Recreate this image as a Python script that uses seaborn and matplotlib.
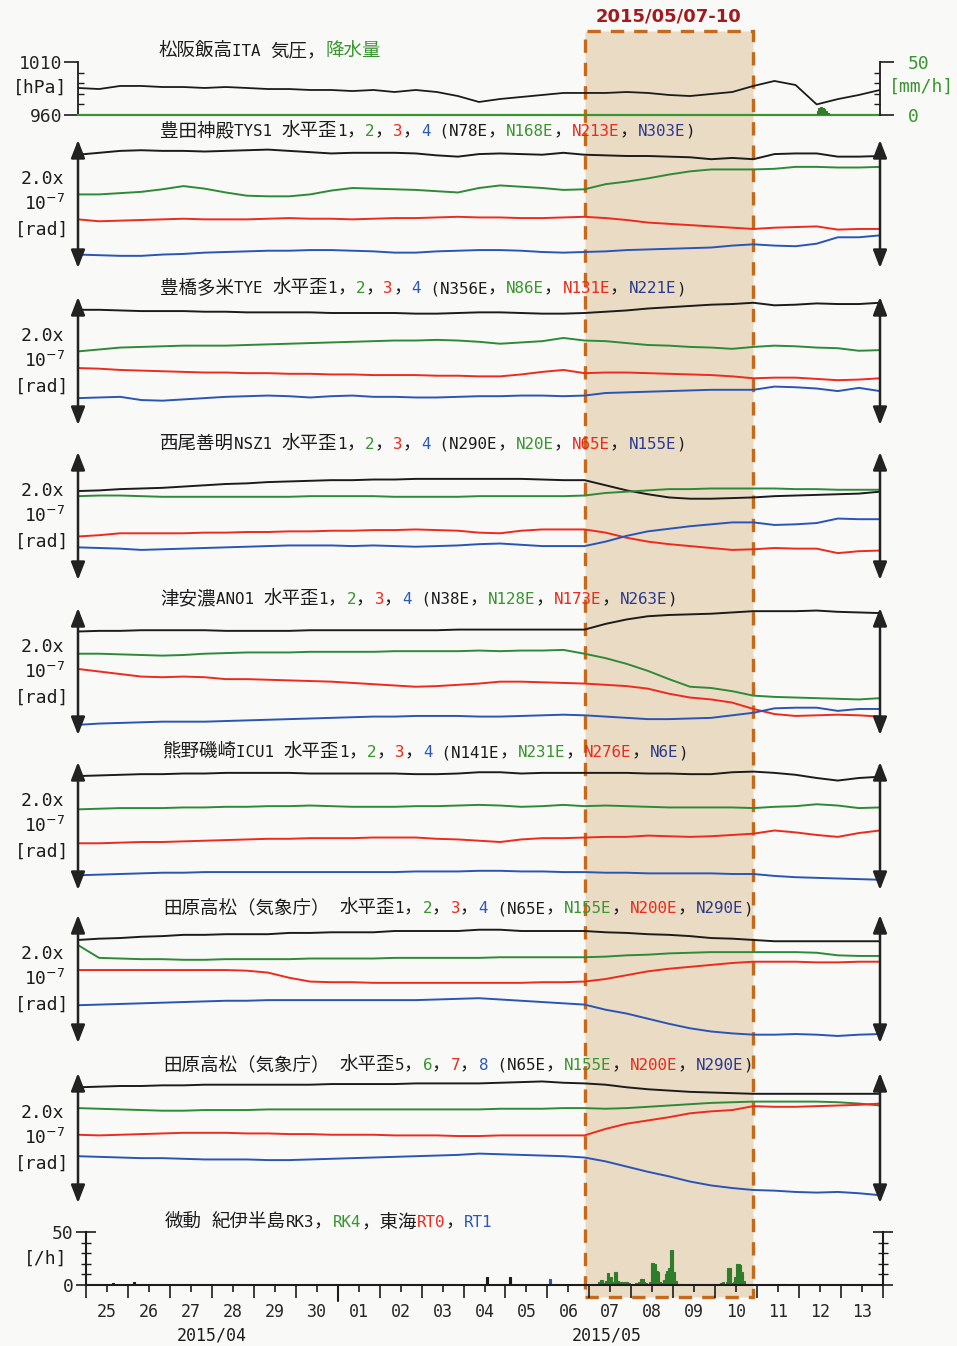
import numpy as np
import pandas as pd
import matplotlib
matplotlib.use("Agg")
import matplotlib.pyplot as plt
import matplotlib.dates as mdates
import seaborn as sns

sns.set_theme(style="ticks")
plt.rcParams['font.family'] = ['DejaVu Sans Mono', 'Noto Sans CJK JP']

# ── data: half-day samples 2015-04-25 00h .. 2015-05-14 00h ────────────
times = pd.date_range("2015-04-25", "2015-05-14", freq="12h")

pressure = [985.5, 984.5, 987.4, 987.4, 986.4, 986.4, 985.5, 986.4, 985.5, 984.5,
            984.5, 983.6, 983.6, 982.6, 983.6, 981.7, 983.6, 981.7, 977.9, 972.3,
            975.1, 977.0, 978.9, 980.8, 980.8, 980.8, 981.7, 980.8, 978.9, 977.9,
            979.8, 981.7, 987.4, 992.1, 988.3, 970.0, 975.0, 978.9, 983.6]
rain_time = pd.date_range("2015-05-12 12:00", periods=7, freq="h")
rain = [4, 7, 8, 7, 6, 4, 2]

# strain, units of 1e-8 rad (arrow = 2.0e-7 rad = 20 units)
TYS1_1 = [17.7, 18.0, 18.3, 18.4, 18.3, 18.3, 18.2, 18.3, 18.4, 18.5, 18.3, 18.1, 17.9, 18.0, 18.0, 18.0, 17.9, 17.6, 17.4, 17.8,
          17.9, 17.8, 17.7, 18.0, 17.7, 17.6, 17.5, 17.5, 17.4, 17.3, 17.0, 17.2, 17.0, 17.8, 17.9, 17.9, 17.4, 17.4, 17.5]
TYS1_2 = [11.5, 11.5, 11.7, 11.9, 12.3, 12.8, 12.4, 11.8, 11.3, 11.2, 11.2, 11.5, 12.1, 12.5, 12.4, 12.3, 12.2, 12.0, 11.8, 12.5,
          12.9, 12.7, 12.5, 12.2, 12.3, 13.1, 13.5, 14.0, 14.6, 15.1, 15.4, 15.4, 15.4, 15.5, 15.8, 15.8, 15.7, 15.7, 15.8]
TYS1_3 = [7.6, 7.3, 7.4, 7.5, 7.6, 7.7, 7.6, 7.6, 7.6, 7.7, 7.8, 7.7, 7.7, 7.6, 7.7, 7.8, 7.8, 7.9, 8.0, 7.9,
          7.9, 7.8, 7.8, 7.9, 8.0, 7.8, 7.5, 7.1, 6.9, 6.7, 6.5, 6.3, 6.1, 6.3, 6.4, 6.5, 6.0, 6.1, 6.1]
TYS1_4 = [2.1, 2.0, 1.9, 1.9, 2.1, 2.2, 2.4, 2.5, 2.6, 2.7, 2.7, 2.8, 2.8, 2.7, 2.6, 2.4, 2.4, 2.6, 2.7, 2.8,
          2.8, 2.7, 2.5, 2.4, 2.5, 2.6, 2.8, 2.9, 3.0, 3.1, 3.2, 3.5, 3.7, 3.5, 3.4, 3.8, 4.8, 4.8, 5.1]

TYE_1 = [18.0, 18.0, 17.9, 17.8, 17.8, 17.8, 17.7, 17.7, 17.6, 17.6, 17.6, 17.6, 17.5, 17.5, 17.5, 17.5, 17.4, 17.4, 17.5, 17.6,
         17.6, 17.5, 17.4, 17.4, 17.5, 17.7, 17.9, 18.2, 18.4, 18.6, 18.8, 18.9, 19.1, 18.7, 18.8, 19.0, 18.9, 18.9, 19.1]
TYE_2 = [11.5, 11.8, 12.1, 12.2, 12.3, 12.4, 12.4, 12.4, 12.5, 12.6, 12.7, 12.8, 12.9, 13.0, 13.1, 13.2, 13.2, 13.3, 13.2, 13.0,
         12.7, 12.9, 13.1, 13.6, 13.2, 13.1, 12.8, 12.5, 12.4, 12.2, 12.1, 11.9, 12.2, 12.4, 12.3, 12.1, 12.0, 11.6, 11.7]
TYE_3 = [8.9, 8.8, 8.6, 8.5, 8.4, 8.3, 8.2, 8.2, 8.1, 8.1, 8.0, 8.0, 7.9, 7.9, 7.8, 7.8, 7.8, 7.7, 7.7, 7.6,
         7.6, 7.9, 8.3, 8.6, 8.1, 8.2, 8.2, 8.1, 8.0, 7.9, 7.8, 7.6, 7.3, 7.4, 7.4, 7.2, 7.0, 7.1, 7.3]
TYE_4 = [4.2, 4.3, 4.4, 3.9, 3.8, 4.0, 4.2, 4.4, 4.5, 4.6, 4.5, 4.3, 4.5, 4.6, 4.4, 4.4, 4.3, 4.3, 4.4, 4.5,
         4.5, 4.6, 4.6, 4.5, 4.6, 5.0, 5.1, 5.2, 5.3, 5.4, 5.5, 5.5, 5.5, 6.0, 5.9, 5.7, 5.3, 5.8, 5.3]

NSZ1_1 = [13.9, 14.0, 14.2, 14.3, 14.4, 14.6, 14.8, 15.0, 15.1, 15.3, 15.4, 15.5, 15.6, 15.6, 15.7, 15.7, 15.8, 15.8, 15.8, 15.8,
          15.8, 15.8, 15.7, 15.6, 15.6, 14.8, 14.0, 13.4, 12.9, 12.7, 12.7, 12.8, 12.9, 13.1, 13.2, 13.3, 13.4, 13.5, 13.8]
NSZ1_2 = [13.1, 13.2, 13.2, 13.1, 13.0, 13.0, 13.0, 13.0, 13.0, 13.0, 13.0, 13.1, 13.1, 13.1, 13.1, 13.0, 13.0, 13.0, 13.0, 13.1,
          13.1, 13.1, 13.1, 13.1, 13.2, 13.6, 13.8, 14.0, 14.2, 14.2, 14.3, 14.3, 14.3, 14.3, 14.2, 14.2, 14.1, 14.1, 14.1]
NSZ1_3 = [6.8, 7.0, 7.3, 7.3, 7.3, 7.3, 7.4, 7.4, 7.5, 7.5, 7.6, 7.6, 7.7, 7.7, 7.8, 7.8, 7.9, 7.8, 7.7, 7.4,
          7.3, 7.7, 7.9, 7.9, 7.9, 7.4, 6.6, 6.0, 5.6, 5.3, 5.0, 4.7, 4.8, 5.0, 4.9, 4.9, 4.2, 4.5, 4.6]
NSZ1_4 = [5.1, 5.0, 4.9, 4.7, 4.8, 4.9, 5.0, 5.1, 5.2, 5.3, 5.4, 5.4, 5.4, 5.3, 5.4, 5.3, 5.2, 5.3, 5.4, 5.6,
          5.7, 5.5, 5.3, 5.3, 5.3, 6.0, 6.9, 7.6, 8.0, 8.4, 8.7, 9.0, 9.0, 8.6, 8.7, 8.9, 9.6, 9.5, 9.5]

ANO1_1 = [16.3, 16.4, 16.4, 16.5, 16.5, 16.5, 16.5, 16.4, 16.4, 16.4, 16.4, 16.5, 16.5, 16.5, 16.5, 16.5, 16.5, 16.5, 16.6, 16.6,
          16.6, 16.6, 16.6, 16.6, 16.6, 17.5, 18.2, 18.7, 18.9, 19.0, 19.1, 19.3, 19.5, 19.5, 19.5, 19.6, 19.4, 19.3, 19.2]
ANO1_2 = [12.8, 12.8, 12.7, 12.6, 12.5, 12.6, 12.8, 12.9, 13.0, 13.0, 13.0, 13.1, 13.1, 13.1, 13.1, 13.2, 13.2, 13.2, 13.2, 13.3,
          13.2, 13.3, 13.3, 13.4, 12.8, 12.1, 11.2, 10.1, 8.8, 7.6, 7.4, 6.9, 6.2, 6.0, 5.9, 5.8, 5.7, 5.6, 5.8]
ANO1_3 = [10.4, 10.0, 9.6, 9.2, 9.1, 9.2, 9.1, 8.8, 8.8, 8.7, 8.6, 8.5, 8.4, 8.2, 8.0, 7.8, 7.6, 7.7, 7.9, 8.1,
          8.4, 8.4, 8.3, 8.2, 8.1, 7.9, 7.7, 7.3, 6.5, 5.9, 5.6, 5.1, 4.1, 3.3, 3.0, 3.1, 3.2, 3.1, 2.9]
ANO1_4 = [1.6, 1.8, 1.9, 2.0, 2.1, 2.1, 2.1, 2.2, 2.3, 2.4, 2.5, 2.6, 2.7, 2.8, 2.9, 2.9, 3.0, 3.0, 3.0, 2.9,
          2.9, 3.0, 3.1, 3.2, 3.1, 2.9, 2.7, 2.5, 2.5, 2.6, 2.7, 3.1, 3.5, 4.2, 4.3, 4.3, 3.8, 4.1, 4.1]

ICU1_1 = [17.8, 17.9, 18.0, 18.1, 18.1, 18.2, 18.2, 18.3, 18.3, 18.3, 18.3, 18.2, 18.2, 18.2, 18.2, 18.2, 18.1, 18.1, 18.2, 18.4,
          18.4, 18.2, 18.3, 18.3, 18.3, 18.3, 18.3, 18.2, 18.2, 18.1, 18.1, 18.4, 18.5, 18.3, 18.0, 17.5, 17.1, 17.5, 17.7]
ICU1_2 = [12.6, 12.7, 12.8, 12.8, 12.8, 12.9, 12.9, 13.0, 13.0, 13.1, 13.1, 13.2, 13.1, 13.0, 13.0, 13.0, 13.1, 13.1, 13.2, 13.3,
          13.2, 13.0, 13.1, 13.3, 13.1, 13.2, 13.1, 13.0, 12.9, 12.9, 12.9, 12.9, 12.8, 13.0, 13.1, 13.4, 13.2, 12.8, 12.9]
ICU1_3 = [7.3, 7.3, 7.4, 7.5, 7.5, 7.6, 7.7, 7.8, 7.9, 8.0, 8.0, 8.1, 8.1, 8.1, 8.2, 8.2, 8.2, 8.0, 7.9, 7.7,
          7.5, 7.9, 8.1, 8.1, 8.2, 8.3, 8.3, 8.5, 8.4, 8.3, 8.4, 8.6, 8.8, 9.3, 9.0, 8.6, 8.3, 8.9, 9.3]
ICU1_4 = [2.3, 2.4, 2.5, 2.6, 2.7, 2.7, 2.8, 2.8, 2.8, 2.8, 2.8, 2.8, 2.8, 2.8, 2.8, 2.8, 2.9, 2.9, 2.9, 3.0,
          3.0, 2.9, 2.9, 2.8, 2.8, 2.7, 2.7, 2.6, 2.6, 2.6, 2.6, 2.5, 2.5, 2.2, 2.0, 1.9, 1.8, 1.7, 1.6]

TAH1_1 = [16.1, 16.3, 16.4, 16.6, 16.7, 16.9, 16.9, 17.0, 17.0, 17.0, 17.2, 17.2, 17.3, 17.3, 17.3, 17.5, 17.5, 17.5, 17.5, 17.7,
          17.7, 17.5, 17.5, 17.5, 17.5, 17.3, 17.2, 17.0, 16.9, 16.7, 16.4, 16.3, 16.1, 15.9, 15.9, 15.9, 15.9, 15.9, 15.9]
TAH1_2 = [15.3, 13.3, 13.2, 13.1, 13.1, 13.0, 13.0, 13.1, 13.1, 13.1, 13.1, 13.2, 13.2, 13.2, 13.2, 13.3, 13.3, 13.3, 13.3, 13.3,
          13.4, 13.4, 13.4, 13.4, 13.4, 13.5, 13.7, 13.8, 14.0, 14.1, 14.2, 14.2, 14.2, 14.2, 14.2, 14.1, 13.7, 13.6, 13.6]
TAH1_3 = [11.4, 11.4, 11.4, 11.4, 11.4, 11.4, 11.4, 11.4, 11.3, 11.0, 10.2, 9.6, 9.5, 9.5, 9.4, 9.4, 9.4, 9.4, 9.4, 9.4,
          9.4, 9.4, 9.5, 9.5, 9.6, 10.0, 10.6, 11.2, 11.6, 11.9, 12.2, 12.5, 12.7, 12.7, 12.7, 12.6, 12.6, 12.7, 12.7]
TAH1_4 = [5.9, 6.0, 6.1, 6.2, 6.3, 6.4, 6.5, 6.6, 6.6, 6.7, 6.7, 6.7, 6.7, 6.7, 6.7, 6.7, 6.7, 6.8, 6.9, 7.0,
          6.8, 6.6, 6.4, 6.2, 6.0, 5.2, 4.6, 3.8, 3.0, 2.3, 1.8, 1.5, 1.3, 1.3, 1.4, 1.3, 1.1, 1.3, 1.4]

TAH5_1 = [17.8, 17.9, 18.0, 18.0, 18.1, 18.1, 18.2, 18.2, 18.2, 18.2, 18.2, 18.2, 18.3, 18.3, 18.3, 18.3, 18.4, 18.4, 18.4, 18.4,
          18.5, 18.6, 18.7, 18.5, 18.4, 18.2, 17.8, 17.5, 17.3, 17.1, 17.0, 16.9, 16.8, 16.8, 16.8, 16.8, 16.8, 16.8, 16.8]
TAH5_2 = [14.6, 14.5, 14.4, 14.3, 14.2, 14.2, 14.3, 14.3, 14.3, 14.4, 14.4, 14.4, 14.4, 14.4, 14.4, 14.4, 14.4, 14.4, 14.4, 14.4,
          14.5, 14.5, 14.5, 14.6, 14.6, 14.5, 14.6, 14.8, 15.0, 15.2, 15.4, 15.5, 15.6, 15.6, 15.6, 15.6, 15.5, 15.3, 15.0]
TAH5_3 = [10.5, 10.4, 10.5, 10.6, 10.7, 10.8, 10.8, 10.8, 10.7, 10.7, 10.6, 10.6, 10.5, 10.5, 10.5, 10.4, 10.4, 10.4, 10.3, 10.3,
          10.4, 10.4, 10.4, 10.4, 10.4, 11.4, 12.2, 12.7, 13.2, 13.8, 14.1, 14.3, 14.9, 14.8, 14.8, 14.9, 15.0, 15.1, 15.3]
TAH5_4 = [7.2, 7.1, 7.0, 6.9, 6.9, 6.8, 6.7, 6.7, 6.7, 6.6, 6.6, 6.7, 6.8, 6.9, 7.0, 7.1, 7.2, 7.3, 7.4, 7.6,
          7.5, 7.4, 7.3, 7.2, 7.0, 6.4, 5.6, 4.8, 4.1, 3.3, 2.7, 2.3, 2.0, 1.9, 1.7, 1.6, 1.7, 1.5, 1.2]

# tremor counts per hour
rk3_time = pd.to_datetime(["2015-04-25 15:00", "2015-04-26 03:00", "2015-05-04 13:00", "2015-05-05 02:00"])
rk3_count = [2, 3, 8, 8]
rk4_hour = [5, 6, 7, 8, 9, 10, 11, 12, 13, 14, 15, 16, 17, 18, 19, 20, 21, 22,
            26, 28, 29, 30, 31, 32, 34,
            35, 36, 37, 38, 39, 40, 41, 42, 43, 44, 45, 46, 47, 48, 49,
            52, 60, 70, 75, 76, 78,
            79, 80, 81, 82, 83, 84, 85, 86, 87, 88]   # hours after 2015-05-07 00h
rk4_count = [3, 5, 5, 2, 4, 11, 6, 8, 3, 12, 12, 4, 3, 3, 2, 3, 3, 2,
             2, 3, 6, 6, 3, 2, 3,
             21, 21, 20, 13, 12, 3, 2, 5, 10, 13, 16, 33, 33, 12, 4,
             1, 1, 1, 2, 3, 3,
             16, 16, 2, 3, 8, 20, 20, 19, 12, 4]
rt0_time = pd.to_datetime(["2015-05-09 15:00", "2015-05-12 06:00"])
rt0_count = [1, 1]
rt1_time = pd.to_datetime(["2015-05-06 01:00", "2015-05-11 15:00", "2015-05-13 14:00"])
rt1_count = [6, 1, 1]

event_start, event_end = pd.Timestamp("2015-05-07"), pd.Timestamp("2015-05-11")
t0, t1 = pd.Timestamp("2015-04-25"), pd.Timestamp("2015-05-14")

# ── styling ───────────────────────────────────────────────────
K, G, R, B, NV = "#1c1c1c", "#3a9430", "#ec2a1c", "#2a57b8", "#2c3a8e"
LINE_COLORS = ["#1c1c1c", "#2f8a38", "#ee2a1e", "#2a55b5"]
W, H = 957, 1346
fig = plt.figure(figsize=(W / 100, H / 100), dpi=100, facecolor="#f9f9f7")
renderer = fig.canvas.get_renderer()

def rect(x0, x1, y0, y1):
    return [x0 / W, 1 - y1 / H, (x1 - x0) / W, (y1 - y0) / H]

def is_wide(ch):
    return ord(ch) > 0x2E80

def colored_text(x_px, y_px, parts, wide=13.3, narrow=11.4):
    # full-width glyphs and half-width glyphs get their own sizes, like a Japanese mono font
    x = x_px
    for s, c in parts:
        runs, cur = [], s[0]
        for ch in s[1:]:
            if is_wide(ch) == is_wide(cur[-1]):
                cur += ch
            else:
                runs.append(cur); cur = ch
        runs.append(cur)
        for run in runs:
            size = wide if is_wide(run[0]) else narrow
            t = fig.text(x / W, 1 - (y_px + 6) / H, run, color=c, fontsize=size, ha="left", va="baseline")
            x += t.get_window_extent(renderer).width

# ── event box ─────────────────────────────────────────────────
bg = fig.add_axes(rect(78, 880, 31, 1297), zorder=0)
bg.set_xlim(t0, t1); bg.set_ylim(0, 1); bg.axis("off")
span = bg.axvspan(event_start, event_end, facecolor="#eadcc4", edgecolor="#c5691a", lw=2.4, ls=(0, (4, 3)))
span.set_clip_on(False)
mid = mdates.date2num(event_start + (event_end - event_start) / 2)
bg.text(mid, 1.004, "2015/05/07-10", transform=bg.get_xaxis_transform(), ha="center", va="bottom",
        color="#a31a1e", fontsize=13, fontweight="bold", family="DejaVu Sans")

# ── pressure / rain ───────────────────────────────────────────
axp = fig.add_axes(rect(78, 880, 62, 115), zorder=2)
axp.patch.set_alpha(0)
sns.lineplot(x=times, y=pressure, color=K, lw=1.3, ax=axp)
axp.set_xlim(t0, t1); axp.set_ylim(960, 1010)
axp.set_xlabel(""); axp.set_ylabel("")
for s in ["top", "right"]:
    axp.spines[s].set_visible(False)
axp.spines["left"].set_color(K); axp.spines["left"].set_linewidth(1.3)
axp.spines["bottom"].set_color(G); axp.spines["bottom"].set_linewidth(1.6)
axp.set_xticks([])
axp.set_yticks([960, 1010]); axp.set_yticklabels(["960", "1010"], fontsize=13)
axp.set_yticks([970, 980, 990, 1000], minor=True)
axp.tick_params(axis="y", which="major", direction="out", length=10, width=1.2, pad=1, color=K)
axp.tick_params(axis="y", which="minor", direction="in", length=4, width=1, left=True, color=K)

axr = axp.twinx()
axr.patch.set_alpha(0)
axr.bar(mdates.date2num(rain_time), rain, width=1 / 24, color="#2f7d2a", edgecolor="#2f7d2a", lw=0.8, align="edge")
axr.set_ylim(0, 50)
for s in ["top", "left", "bottom"]:
    axr.spines[s].set_visible(False)
axr.spines["right"].set_color(K); axr.spines["right"].set_linewidth(1.3)
axr.set_yticks([0, 50]); axr.set_yticklabels(["0", "50"], fontsize=13, color=G)
axr.set_yticks([10, 20, 30, 40], minor=True)
axr.tick_params(axis="y", which="major", direction="out", length=10, width=1.2, pad=10, color=K)
axr.tick_params(axis="y", which="minor", direction="in", length=4, width=1, right=True, color=K)
fig.text(67 / W, 1 - 88 / H, "[hPa]", ha="right", va="center", fontsize=13, color=K)
fig.text(889 / W, 1 - 87 / H, "[mm/h]", ha="left", va="center", fontsize=13, color=G)
colored_text(158, 50, [("松阪飯高ITA 気圧，", K), ("降水量", G)])

# ── strain panels ─────────────────────────────────────────────
panels = [
    ([TYS1_1, TYS1_2, TYS1_3, TYS1_4], 140, 268, "豊田神殿TYS1 水平歪", "1234", ["N78E", "N168E", "N213E", "N303E"], 160, 130),
    ([TYE_1, TYE_2, TYE_3, TYE_4], 297, 425, "豊橋多米TYE 水平歪", "1234", ["N356E", "N86E", "N131E", "N221E"], 160, 287),
    ([NSZ1_1, NSZ1_2, NSZ1_3, NSZ1_4], 452, 580, "西尾善明NSZ1 水平歪", "1234", ["N290E", "N20E", "N65E", "N155E"], 160, 443),
    ([ANO1_1, ANO1_2, ANO1_3, ANO1_4], 608, 735, "津安濃ANO1 水平歪", "1234", ["N38E", "N128E", "N173E", "N263E"], 160, 598),
    ([ICU1_1, ICU1_2, ICU1_3, ICU1_4], 762, 890, "熊野磯崎ICU1 水平歪", "1234", ["N141E", "N231E", "N276E", "N6E"], 162, 751),
    ([TAH1_1, TAH1_2, TAH1_3, TAH1_4], 915, 1043, "田原高松（気象庁） 水平歪", "1234", ["N65E", "N155E", "N200E", "N290E"], 163, 907),
    ([TAH5_1, TAH5_2, TAH5_3, TAH5_4], 1073, 1203, "田原高松（気象庁） 水平歪", "5678", ["N65E", "N155E", "N200E", "N290E"], 163, 1064),
]
arrow = dict(arrowstyle="<|-|>,head_length=0.9,head_width=0.35", lw=1.8, color="#222222",
             shrinkA=0, shrinkB=0, mutation_scale=12)
for series, top, bot, name, nums, dirs, tx, ty in panels:
    ax = fig.add_axes(rect(78, 880, top, bot), zorder=2)
    ax.patch.set_alpha(0)
    df = pd.DataFrame({"time": np.tile(times.values, 4),
                       "value": np.concatenate(series),
                       "ch": np.repeat(list(nums), len(times))})
    sns.lineplot(data=df, x="time", y="value", hue="ch", palette=LINE_COLORS, legend=False, lw=1.4, ax=ax)
    ax.set_xlim(t0, t1); ax.set_ylim(0, 20)
    ax.axis("off")
    for xa in (0, 1):
        ax.annotate("", xy=(xa, 1), xytext=(xa, 0), xycoords="axes fraction", arrowprops=arrow)
    c = (top + bot) / 2
    fig.text(42 / W, 1 - (c - 25) / H, "2.0x", ha="center", va="center", fontsize=13, color=K)
    fig.text(45 / W, 1 - c / H, "10$^{-7}$", ha="center", va="center", fontsize=13, color=K)
    fig.text(42 / W, 1 - (c + 26) / H, "[rad]", ha="center", va="center", fontsize=13, color=K)
    colored_text(tx, ty, [(name + nums[0] + "，", K), (nums[1], G), ("，", K), (nums[2], R), ("，", K),
                          (nums[3], B), (" (" + dirs[0] + "，", K), (dirs[1], G), ("，", K), (dirs[2], R),
                          ("，", K), (dirs[3], NV), (")", K)])

# ── tremor ────────────────────────────────────────────────────
axt = fig.add_axes(rect(86, 883, 1232, 1285), zorder=2)
axt.patch.set_alpha(0)
axt.xaxis_date()
rk4_time = event_start + pd.to_timedelta(rk4_hour, unit="h")
for tt, cc, col in [(rk3_time, rk3_count, K), (rk4_time, rk4_count, "#2f7d2a"),
                    (rt0_time, rt0_count, R), (rt1_time, rt1_count, B)]:
    axt.bar(mdates.date2num(tt), cc, width=1 / 24, color=col, edgecolor=col, lw=0.8, align="edge")
axt.set_xlim(t0, t1); axt.set_ylim(0, 50)
axt.spines["top"].set_visible(False)
for s in ["left", "right", "bottom"]:
    axt.spines[s].set_color(K); axt.spines[s].set_linewidth(1.5)
axt.xaxis.set_major_locator(mdates.HourLocator(byhour=12))
axt.xaxis.set_major_formatter(mdates.DateFormatter("%d"))
axt.xaxis.set_minor_locator(mdates.DayLocator())
axt.tick_params(axis="x", which="major", direction="out", length=5, width=1.2, labelsize=12, pad=8, color=K)
axt.tick_params(axis="x", which="minor", direction="out", length=9, width=1.2, color=K)
axt.set_yticks([0, 50]); axt.set_yticklabels(["0", "50"], fontsize=13)
axt.set_yticks([10, 20, 30, 40], minor=True)
axt.tick_params(axis="y", which="major", direction="inout", length=14, width=1.2, right=True, pad=2, color=K)
axt.tick_params(axis="y", which="minor", direction="inout", length=7, width=1, left=True, right=True, color=K)
axt.axvline(pd.Timestamp("2015-05-01"), ymin=-0.3, ymax=0, color=K, lw=1.5, clip_on=False)
for lbl, d in [("2015/04", "2015-04-28"), ("2015/05", "2015-05-07 10:00")]:
    axt.annotate(lbl, xy=(mdates.date2num(pd.Timestamp(d)), 0), xycoords=axt.get_xaxis_transform(),
                 xytext=(0, -36), textcoords="offset points", ha="center", va="center", fontsize=12, color=K)
fig.text(67 / W, 1 - 1259 / H, "[/h]", ha="right", va="center", fontsize=13, color=K)
colored_text(165, 1221, [("微動 紀伊半島RK3，", K), ("RK4", G), ("，東海", K), ("RT0", R), ("，", K), ("RT1", B)])

fig.savefig("out.png", dpi=100, facecolor=fig.get_facecolor())
